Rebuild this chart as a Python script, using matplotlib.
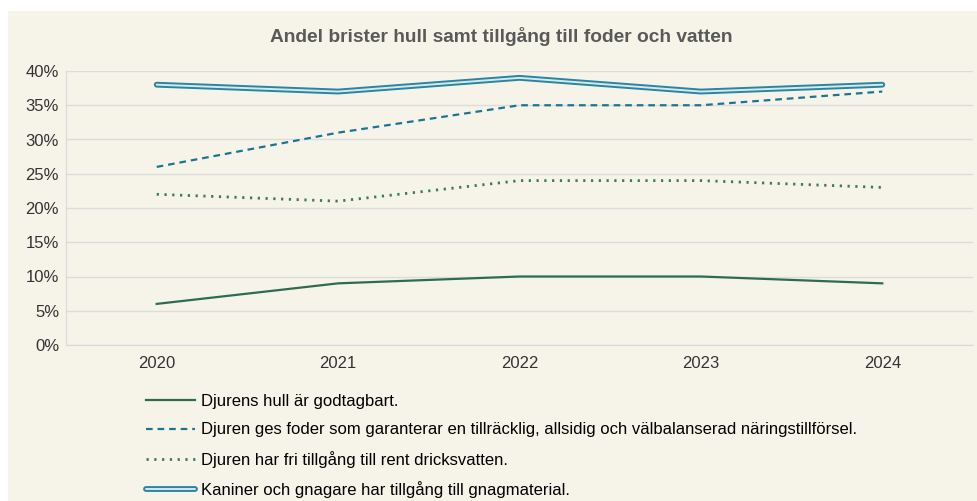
import matplotlib
matplotlib.use('Agg')
from matplotlib import pyplot as plt
from matplotlib.patches import Rectangle
from matplotlib.legend_handler import HandlerTuple
from matplotlib.ticker import FuncFormatter

# data
years = ['2020', '2021', '2022', '2023', '2024']
hull = [6, 9, 10, 10, 9]
foder = [26, 31, 35, 35, 37]
vatten = [22, 21, 24, 24, 23]
gnag = [38, 37, 39, 37, 38]

labels = ['Djurens hull är godtagbart.',
          'Djuren ges foder som garanterar en tillräcklig, allsidig och välbalanserad näringstillförsel.',
          'Djuren har fri tillgång till rent dricksvatten.',
          'Kaniner och gnagare har tillgång till gnagmaterial.']

plt.rcParams['font.family'] = ['Liberation Sans', 'DejaVu Sans']
bg = '#f6f4e9'

fig = plt.figure(figsize=(9.78, 5.01), dpi=100)
fig.patch.set_facecolor('white')
fig.patches.append(Rectangle((8 / 978, 0), 1, 1 - 11 / 501, transform=fig.transFigure,
                             facecolor=bg, edgecolor='none', zorder=-10))

ax = fig.add_axes([66 / 978, 1 - 345 / 501, (973 - 66) / 978, (345 - 71) / 501])
ax.set_facecolor(bg)
x = range(len(years))

l1, = ax.plot(x, hull, color='#2f6b52', lw=1.6, label=labels[0])
l2, = ax.plot(x, foder, color='#1b7592', lw=1.6, linestyle=(0, (3, 2.2)), label=labels[1])
l3, = ax.plot(x, vatten, color='#3b7a5c', lw=2.0, linestyle=(0, (0.8, 2.0)), label=labels[2])
l4a, = ax.plot(x, gnag, color='#2b84a0', lw=4.2, solid_capstyle='round', solid_joinstyle='round')
l4b, = ax.plot(x, gnag, color='#d4e8ee', lw=1.4, solid_capstyle='round', solid_joinstyle='round')

ax.set_xlim(-0.5, 4.5)
ax.set_ylim(0, 40)
ax.set_yticks(range(0, 41, 5))
ax.yaxis.set_major_formatter(FuncFormatter(lambda v, p: '%d%%' % v))
ax.set_xticks(list(x))
ax.set_xticklabels(years)
ax.grid(axis='y', color='#dcdcdc', lw=1)
ax.set_axisbelow(True)
for s in ['top', 'right']:
    ax.spines[s].set_visible(False)
ax.spines['left'].set_color('#d9d9d9')
ax.spines['bottom'].set_color('#d9d9d9')
ax.tick_params(axis='both', length=0, labelsize=12, colors='#333333')
ax.tick_params(axis='x', pad=8)
ax.tick_params(axis='y', pad=5)

fig.text(0.513, 1 - 36 / 501, 'Andel brister hull samt tillgång till foder och vatten',
         ha='center', va='center', fontsize=13.8, fontweight='bold', color='#595959')

fig.legend([l1, l2, l3, (l4a, l4b)], labels, loc='upper left',
           bbox_to_anchor=(131 / 978, 1 - 379 / 501), frameon=False, fontsize=12,
           handlelength=2.95, handletextpad=0.35, labelspacing=0.8,
           handler_map={tuple: HandlerTuple(ndivide=1)})

plt.savefig('out.png', dpi=100, facecolor='white')
